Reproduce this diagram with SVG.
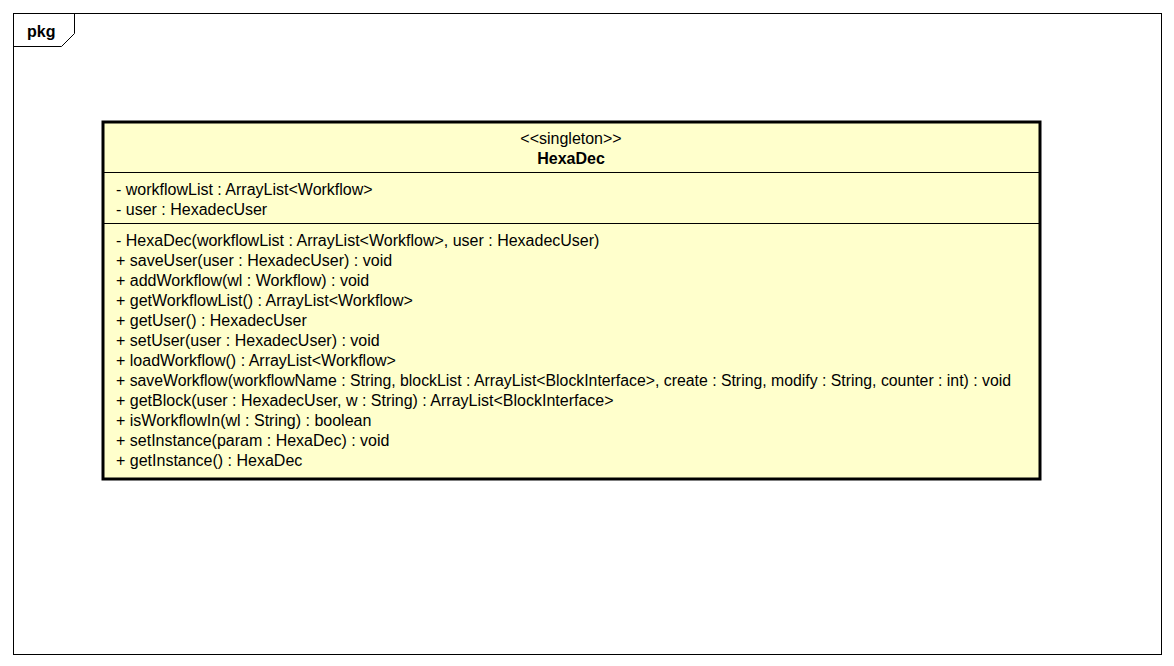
<svg xmlns="http://www.w3.org/2000/svg" width="1174" height="666" viewBox="0 0 1174 666">
<style>
text{font-family:"Liberation Sans",Arial,sans-serif;font-size:16px;fill:#000}
.b{font-weight:bold}
.c{text-anchor:middle}
</style>
<rect width="1174" height="666" fill="#fff"/>
<g id="frame">
<rect x="13.5" y="13.5" width="1148" height="641" fill="none" stroke="#000" stroke-width="1"/>
<path d="M13.5 46.5 H61.5 L74.5 33.5 V13.5" fill="none" stroke="#000" stroke-width="1"/>
<text x="27" y="37" class="b">pkg</text>
</g>
<g id="HexaDec">
<rect x="103" y="122" width="937" height="357" fill="#FFFFCC" stroke="#000" stroke-width="3"/>
<line x1="104" y1="172.5" x2="1039" y2="172.5" stroke="#000" stroke-width="1"/>
<line x1="104" y1="223.5" x2="1039" y2="223.5" stroke="#000" stroke-width="1"/>
<text x="571" y="144" class="c">&lt;&lt;singleton&gt;&gt;</text>
<text x="571" y="164" class="c b">HexaDec</text>
<text x="116" y="195">- workflowList : ArrayList&lt;Workflow&gt;</text>
<text x="116" y="215">- user : HexadecUser</text>
<text x="116" y="246">- HexaDec(workflowList : ArrayList&lt;Workflow&gt;, user : HexadecUser)</text>
<text x="116" y="266">+ saveUser(user : HexadecUser) : void</text>
<text x="116" y="286">+ addWorkflow(wl : Workflow) : void</text>
<text x="116" y="306">+ getWorkflowList() : ArrayList&lt;Workflow&gt;</text>
<text x="116" y="326">+ getUser() : HexadecUser</text>
<text x="116" y="346">+ setUser(user : HexadecUser) : void</text>
<text x="116" y="366">+ loadWorkflow() : ArrayList&lt;Workflow&gt;</text>
<text x="116" y="386" textLength="895" lengthAdjust="spacingAndGlyphs">+ saveWorkflow(workflowName : String, blockList : ArrayList&lt;BlockInterface&gt;, create : String, modify : String, counter : int) : void</text>
<text x="116" y="406">+ getBlock(user : HexadecUser, w : String) : ArrayList&lt;BlockInterface&gt;</text>
<text x="116" y="426">+ isWorkflowIn(wl : String) : boolean</text>
<text x="116" y="446">+ setInstance(param : HexaDec) : void</text>
<text x="116" y="466">+ getInstance() : HexaDec</text>
</g>
</svg>
